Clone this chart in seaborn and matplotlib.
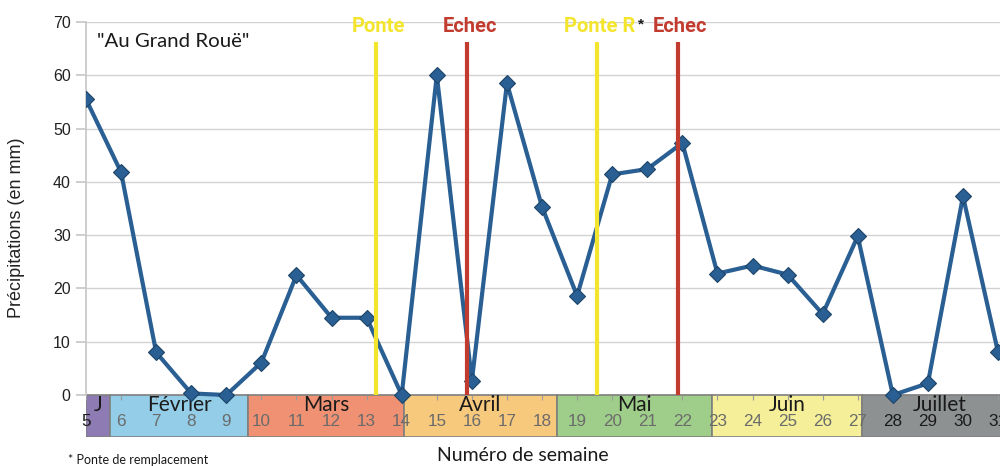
import matplotlib
matplotlib.use("Agg")
import matplotlib.pyplot as plt
import seaborn as sns
import pandas as pd
from matplotlib.patches import Rectangle

# ---- data ----
weeks = list(range(5, 32))
precip = [55.5, 41.8, 8.0, 0.3, 0.0, 6.1, 22.5, 14.5, 14.5, 0.0, 60.0, 2.7, 58.5,
          35.3, 18.6, 41.4, 42.4, 47.3, 22.8, 24.3, 22.6, 15.2, 29.8, 0.0, 2.2, 37.3, 8.0]

event_labels = ["Ponte", "Echec", "Ponte R", "Echec"]
event_weeks = [13.26, 15.87, 19.56, 21.87]
event_colors = ["#f3e52e", "#c23b2f", "#f3e52e", "#c23b2f"]

months = ["J", "Février", "Mars", "Avril", "Mai", "Juin", "Juillet"]
month_start = [5.0, 5.68, 9.63, 14.06, 18.42, 22.84, 27.13]
month_end = [5.68, 9.63, 14.06, 18.42, 22.84, 27.13, 31.55]
month_colors = ["#8f7bb3", "#93cde8", "#ef9172", "#f7c97d", "#9fce8a", "#f4ef98", "#8d9192"]

y_ticks = [0, 10, 20, 30, 40, 50, 60, 70]

df = pd.DataFrame({"semaine": weeks, "precip": precip})

sns.set_theme(style="white")
plt.rcParams["font.family"] = ["Liberation Sans", "DejaVu Sans"]

fig = plt.figure(figsize=(10, 4.66), dpi=100)
ax = fig.add_axes([0.086, 0.0622, 0.914, 0.8906])
ax.set_xlim(5, 31.055)
ax.set_ylim(-7.88, 70)

# grid
for t in y_ticks:
    ax.axhline(t, color="#d2d2d2", lw=1.0, zorder=0)

# month bands
for m, s, e, c in zip(months, month_start, month_end, month_colors):
    ax.add_patch(Rectangle((s, -7.88), e - s, 7.88, facecolor=c,
                           edgecolor="#7f7f7f", lw=1.2, zorder=1, clip_on=True))
    ax.text((s + e) / 2, -1.9, m, ha="center", va="center", fontsize=15,
            family=["Lato", "DejaVu Sans"], color="#1a1a1a", zorder=3)

# small week ticks inside bands
ax.vlines(weeks, -0.9, 0, color="#9a9a9a", lw=0.8, zorder=2)

# week numbers
for w in weeks:
    col = "#1a1a1a" if (w == 5 or w >= 28) else "#6b6b6b"
    ax.text(w, -5.0, str(w), ha="center", va="center", fontsize=12.3,
            color=col, zorder=3, clip_on=False)

# data line
sns.lineplot(data=df, x="semaine", y="precip", ax=ax, color="#2a5f93", lw=3,
             marker="D", markersize=8, markeredgecolor="#1d4468",
             markeredgewidth=0.8, zorder=4)

# event lines
ax.vlines(event_weeks, 0, 66.3, colors=event_colors, lw=3.0, zorder=5)
for lab, w, c in zip(event_labels, event_weeks, event_colors):
    ax.text(w + 0.07, 69.2, lab, ha="center", va="center", fontsize=14.5,
            fontweight="bold", color=c, family=["Roboto", "DejaVu Sans"],
            zorder=6)
ax.text(event_weeks[2] + 1.27, 69.6, "*", ha="center", va="center", fontsize=11,
        fontweight="bold", color="#1a1a1a", zorder=6)

# title inside plot
ax.text(5.32, 66.3, '"Au Grand Rouë"', ha="left", va="center", fontsize=14.7,
        family=["Lato", "DejaVu Sans"], color="#1a1a1a")

# axes styling
ax.set_yticks(y_ticks)
ax.set_xticks([])
ax.tick_params(axis="y", length=7, color="#c8c8c8", pad=4, labelsize=11.5,
               labelcolor="#222222", left=True)
for sp in ["top", "right", "bottom"]:
    ax.spines[sp].set_visible(False)
ax.spines["left"].set_color("#c8c8c8")
ax.spines["left"].set_bounds(0, 70)
ax.set_xlabel("")
ax.set_ylabel("Précipitations (en mm)", fontsize=13, color="#222222")
ax.yaxis.set_label_coords(-0.0667, 0.504)

fig.text(0.523, 0.022, "Numéro de semaine", ha="center", va="center",
         fontsize=14, family=["Lato", "DejaVu Sans"], color="#1a1a1a")
fig.text(0.068, 0.012, "* Ponte de remplacement", ha="left", va="center",
         fontsize=9, family=["Lato", "DejaVu Sans"], color="#1a1a1a")

fig.savefig("out.png", dpi=100, facecolor="white")
